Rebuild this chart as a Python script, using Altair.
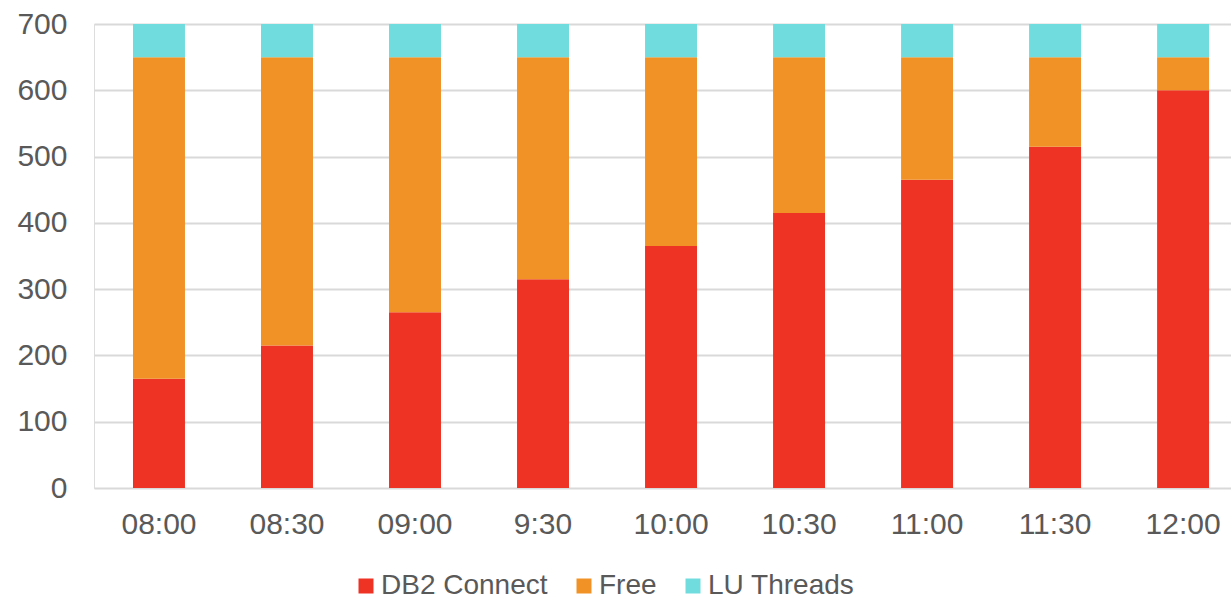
import altair as alt
import pandas as pd

# Time slots along the x axis
times = ["08:00", "08:30", "09:00", "9:30", "10:00", "10:30", "11:00", "11:30", "12:00"]

# Thread counts per series
db2_connect = [165, 215, 265, 315, 365, 415, 465, 515, 600]
free = [485, 435, 385, 335, 285, 235, 185, 135, 50]
lu_threads = [50, 50, 50, 50, 50, 50, 50, 50, 50]

series = ["DB2 Connect", "Free", "LU Threads"]
colors = ["#EE3324", "#F09226", "#70DCDE"]

rows = []
for i, t in enumerate(times):
    for k, (name, vals) in enumerate(zip(series, [db2_connect, free, lu_threads])):
        rows.append({"time": t, "series": name, "value": vals[i], "order": k})
df = pd.DataFrame(rows)

font = "Liberation Sans"
text_color = "#595959"

chart = (
    alt.Chart(df)
    .mark_bar()
    .encode(
        x=alt.X(
            "time:N",
            sort=times,
            title=None,
            scale=alt.Scale(paddingInner=0.594, paddingOuter=0.238, align=0.64),
            axis=alt.Axis(
                labelAngle=0,
                ticks=False,
                domain=False,
                labelPadding=21,
                labelFontSize=30,
                labelFont=font,
                labelColor=text_color,
                grid=False,
            ),
        ),
        y=alt.Y(
            "value:Q",
            stack="zero",
            title=None,
            scale=alt.Scale(domain=[0, 700], nice=False),
            axis=alt.Axis(
                values=[0, 100, 200, 300, 400, 500, 600, 700],
                ticks=False,
                domain=False,
                labelPadding=27,
                labelFontSize=30,
                labelFont=font,
                labelColor=text_color,
                gridColor="#D9D9D9",
                gridWidth=2,
            ),
        ),
        color=alt.Color(
            "series:N",
            sort=series,
            scale=alt.Scale(domain=series, range=colors),
            legend=alt.Legend(
                title=None,
                orient="none",
                legendX=258,
                legendY=548,
                direction="horizontal",
                columns=3,
                symbolType="square",
                symbolSize=225,
                symbolStrokeWidth=0,
                symbolOpacity=1,
                labelFontSize=28,
                labelFont=font,
                labelColor=text_color,
                labelOffset=1,
                columnPadding=22,
                labelLimit=400,
            ),
        ),
        order=alt.Order("order:Q", sort="ascending"),
    )
    .properties(
        width=1137,
        height=464,
        autosize=alt.AutoSizeParams(type="none"),
        padding={"left": 94, "top": 24, "right": 0, "bottom": 111},
    )
    .configure_view(stroke=None)
    .configure(background="white")
)

chart.save("out.html", embed_options={"renderer": "svg", "actions": False})
